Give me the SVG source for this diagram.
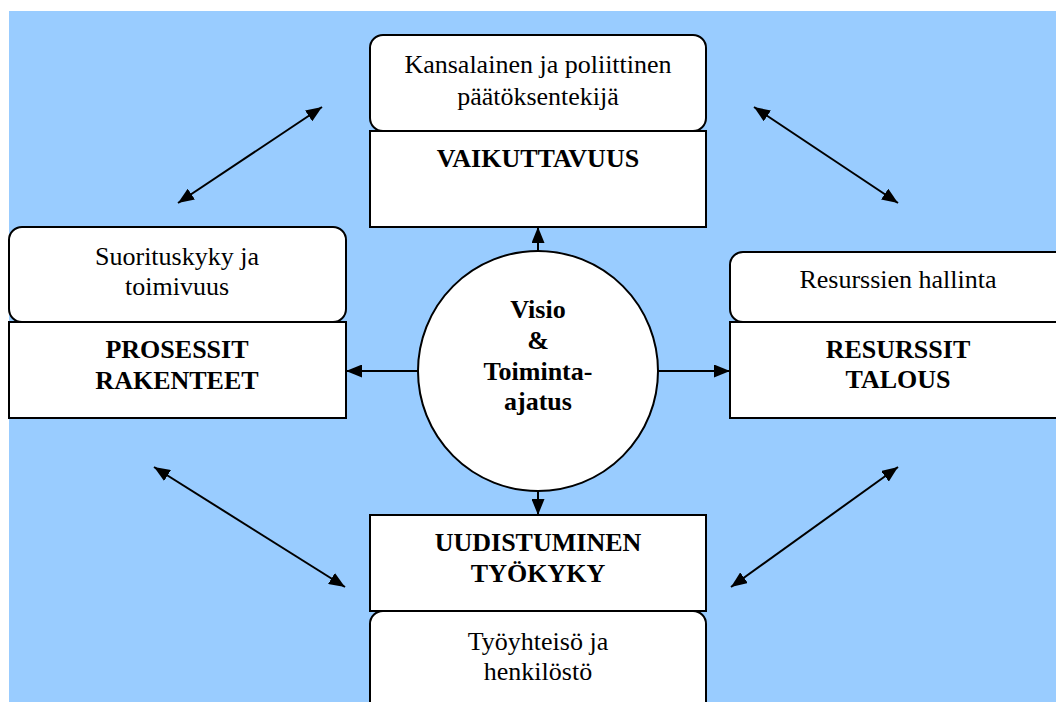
<svg xmlns="http://www.w3.org/2000/svg" width="1056" height="702" viewBox="0 0 1056 702">
  <style>
    .box { fill: #ffffff; stroke: #000000; stroke-width: 2; }
    .txt { font-family: "Liberation Serif", "Times New Roman", serif; font-size: 26px; fill: #000000; text-anchor: middle; }
    .bold { font-weight: bold; }
    .conn { stroke: #000000; stroke-width: 2; fill: none; }
  </style>
  <defs>
    <marker id="head" viewBox="0 0 16 13" refX="16" refY="6.5" markerWidth="16" markerHeight="13" markerUnits="userSpaceOnUse" orient="auto-start-reverse">
      <path d="M0,0 L16,6.5 L0,13 Z" fill="#000000"/>
    </marker>
  </defs>

  <!-- page background -->
  <rect x="0" y="0" width="1056" height="702" fill="#ffffff"/>
  <rect x="9" y="11" width="1047" height="691" fill="#99ccff"/>

  <!-- top: effectiveness -->
  <g id="node-vaikuttavuus">
    <rect class="box" x="370" y="35" width="336" height="96" rx="13" ry="13"/>
    <rect class="box" x="370" y="131" width="336" height="96"/>
    <text class="txt" x="538" y="73">Kansalainen ja poliittinen</text>
    <text class="txt" x="538" y="105">päätöksentekijä</text>
    <text class="txt bold" x="538" y="167">VAIKUTTAVUUS</text>
  </g>

  <!-- left: processes -->
  <g id="node-prosessit">
    <rect class="box" x="9" y="227" width="337" height="95" rx="13" ry="13"/>
    <rect class="box" x="9" y="322" width="337" height="96"/>
    <text class="txt" x="177" y="265">Suorituskyky ja</text>
    <text class="txt" x="177" y="295">toimivuus</text>
    <text class="txt bold" x="177" y="358">PROSESSIT</text>
    <text class="txt bold" x="177" y="389">RAKENTEET</text>
  </g>

  <!-- right: resources -->
  <g id="node-resurssit">
    <rect class="box" x="730" y="252" width="340" height="70" rx="13" ry="13"/>
    <rect class="box" x="730" y="322" width="340" height="96"/>
    <text class="txt" x="898" y="288">Resurssien hallinta</text>
    <text class="txt bold" x="898" y="358">RESURSSIT</text>
    <text class="txt bold" x="898" y="388">TALOUS</text>
  </g>

  <!-- bottom: renewal -->
  <g id="node-uudistuminen">
    <rect class="box" x="370" y="515" width="336" height="96"/>
    <rect class="box" x="370" y="611" width="336" height="110" rx="13" ry="13"/>
    <text class="txt bold" x="538" y="551">UUDISTUMINEN</text>
    <text class="txt bold" x="538" y="582">TYÖKYKY</text>
    <text class="txt" x="538" y="650">Työyhteisö ja</text>
    <text class="txt" x="538" y="680">henkilöstö</text>
  </g>

  <!-- centre: vision -->
  <g id="node-visio">
    <circle class="box" cx="538" cy="371" r="120"/>
    <text class="txt bold" x="538" y="318">Visio</text>
    <text class="txt bold" x="538" y="349">&amp;</text>
    <text class="txt bold" x="538" y="380">Toiminta-</text>
    <text class="txt bold" x="538" y="410">ajatus</text>
  </g>

  <g id="connectors">
    <line class="conn" x1="538" y1="251" x2="538" y2="227" marker-end="url(#head)"/>
    <line class="conn" x1="418" y1="371" x2="346" y2="371" marker-end="url(#head)"/>
    <line class="conn" x1="658" y1="371" x2="730" y2="371" marker-end="url(#head)"/>
    <line class="conn" x1="538" y1="491" x2="538" y2="515" marker-end="url(#head)"/>

    <line class="conn" x1="178" y1="203" x2="322" y2="107" marker-start="url(#head)" marker-end="url(#head)"/>
    <line class="conn" x1="754" y1="107" x2="898" y2="203" marker-start="url(#head)" marker-end="url(#head)"/>
    <line class="conn" x1="154" y1="467" x2="345" y2="587" marker-start="url(#head)" marker-end="url(#head)"/>
    <line class="conn" x1="898" y1="467" x2="731" y2="587" marker-start="url(#head)" marker-end="url(#head)"/>
  </g>
</svg>
